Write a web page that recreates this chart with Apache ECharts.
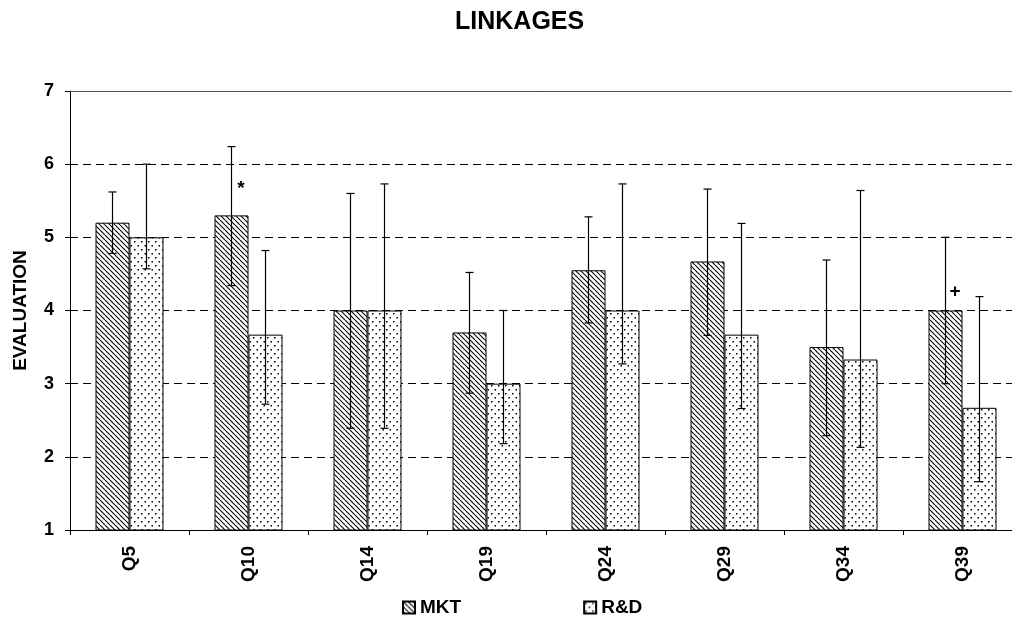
<!DOCTYPE html>
<html><head><meta charset="utf-8">
<script src="https://cdn.jsdelivr.net/npm/echarts@6/dist/echarts.min.js"></script>
<style>html,body{margin:0;padding:0;background:#fff}#c{width:1012px;height:624px}</style>
</head><body><div id="c"></div>
<script>
const categories = ['Q5','Q10','Q14','Q19','Q24','Q29','Q34','Q39'];
const mktValues = [5.2, 5.3, 4.0, 3.7, 4.55, 4.67, 3.5, 4.0];
const mktHigh   = [5.62, 6.24, 5.6, 4.52, 5.28, 5.66, 4.69, 5.0];
const mktLow    = [4.78, 4.34, 2.39, 2.87, 3.83, 3.66, 2.29, 3.0];
const rdValues  = [5.0, 3.67, 4.0, 3.0, 4.0, 3.67, 3.33, 2.67];
const rdHigh    = [6.0, 4.82, 5.73, 4.0, 5.73, 5.19, 5.64, 4.19];
const rdLow     = [4.57, 2.72, 2.39, 2.18, 3.27, 2.66, 2.13, 1.66];
const annoIndex = [1, 7];
const annoValue = [5.66, 4.25];
const annoText  = ['*', '+'];
const yTicks = [1,2,3,4,5,6,7];

function hatchPattern(){
  const c = document.createElement('canvas'); c.width = 5; c.height = 5;
  const g = c.getContext('2d');
  g.fillStyle = '#fff'; g.fillRect(0,0,5,5);
  g.strokeStyle = '#000'; g.lineWidth = 1.1;
  for (const k of [-5,0,5]) { g.beginPath(); g.moveTo(k,0); g.lineTo(k+5,5); g.stroke(); }
  return {image: c, repeat: 'repeat'};
}
function dotPattern(){
  const c = document.createElement('canvas'); c.width = 7; c.height = 8;
  const g = c.getContext('2d');
  g.fillStyle = '#fff'; g.fillRect(0,0,7,8);
  g.fillStyle = '#000';
  g.fillRect(1,1,1.5,1.5); g.fillRect(4.5,5,1.5,1.5);
  return {image: c, repeat: 'repeat'};
}

const FONT = 'Liberation Sans, Arial, sans-serif';
const BAR_W = 34;

function errSeries(name, low, high, offset){
  return {
    type: 'custom', name: name + '_err', silent: true, z: 5,
    data: categories.map((c,i) => [i, low[i], high[i]]),
    renderItem: function(params, api){
      const lo = api.coord([api.value(0), api.value(1)]);
      const hi = api.coord([api.value(0), api.value(2)]);
      const x = lo[0] + offset;
      const st = {stroke: '#000', lineWidth: 1.2};
      return {type: 'group', children: [
        {type:'line', shape:{x1:x, y1:lo[1], x2:x, y2:hi[1]}, style: st},
        {type:'line', shape:{x1:x-4, y1:lo[1], x2:x+4, y2:lo[1]}, style: st},
        {type:'line', shape:{x1:x-4, y1:hi[1], x2:x+4, y2:hi[1]}, style: st}
      ]};
    }
  };
}

const chart = echarts.init(document.getElementById('c'), null, {renderer: 'canvas'});
chart.setOption({
  backgroundColor: '#fff',
  animation: false,
  title: {text: 'LINKAGES', left: 450, top: 5,
    textStyle: {fontFamily: FONT, fontWeight: 'bold', fontSize: 25, color: '#000'}},
  legend: {
    data: ['MKT', 'R&D'], bottom: 2, left: 397, itemGap: 122,
    itemWidth: 12, itemHeight: 12, icon: 'rect',
    textStyle: {fontFamily: FONT, fontWeight: 'bold', fontSize: 19, color: '#000'}
  },
  grid: {left: 70, width: 952, top: 91, height: 439, containLabel: false, outerBoundsMode: 'none'},
  xAxis: [{
    type: 'category', data: categories, boundaryGap: true,
    axisLine: {lineStyle: {color: '#000', width: 1}},
    axisTick: {show: true, alignWithLabel: false, length: 5, lineStyle: {color: '#000'}},
    axisLabel: {rotate: 90, margin: 16, fontFamily: FONT, fontWeight: 'bold', fontSize: 19, color: '#000'}
  }, {
    type: 'category', data: categories, position: 'top',
    axisLine: {lineStyle: {color: '#555', width: 1}},
    axisTick: {show: false}, axisLabel: {show: false}
  }],
  yAxis: {
    type: 'value', min: 1, max: 7, interval: 1,
    name: 'EVALUATION', nameLocation: 'middle', nameGap: 40, nameRotate: 90,
    nameTextStyle: {fontFamily: FONT, fontWeight: 'bold', fontSize: 19, color: '#000'},
    axisLine: {show: true, lineStyle: {color: '#000', width: 1}},
    axisTick: {show: true, length: 5, lineStyle: {color: '#000'}},
    axisLabel: {margin: 16, fontFamily: FONT, fontWeight: 'bold', fontSize: 18, color: '#000',
      formatter: v => yTicks.includes(v) ? String(v) : ''},
    splitLine: {show: true, lineStyle: {color: '#000', type: [8, 5], width: 1}}
  },
  series: [
    {type: 'bar', name: 'MKT', data: mktValues, barWidth: BAR_W, barGap: '0%', z: 2,
      itemStyle: {color: hatchPattern(), borderColor: '#000', borderWidth: 1}},
    {type: 'bar', name: 'R&D', data: rdValues, barWidth: BAR_W, barGap: '0%', z: 2,
      itemStyle: {color: dotPattern(), borderColor: '#000', borderWidth: 1}},
    errSeries('MKT', mktLow, mktHigh, -BAR_W/2),
    errSeries('R&D', rdLow, rdHigh, BAR_W/2),
    {type: 'custom', name: 'anno', silent: true, z: 6,
      data: annoIndex.map((idx, k) => [idx, annoValue[k], k]),
      renderItem: function(params, api){
        const p = api.coord([api.value(0), api.value(1)]);
        return {type: 'text', x: p[0] - 7.5, y: p[1],
          style: {text: annoText[api.value(2)], fontFamily: FONT, fontWeight: 'bold', fontSize: 19,
            fill: '#000', align: 'center', verticalAlign: 'middle'}};
      }}
  ]
});
</script></body></html>
